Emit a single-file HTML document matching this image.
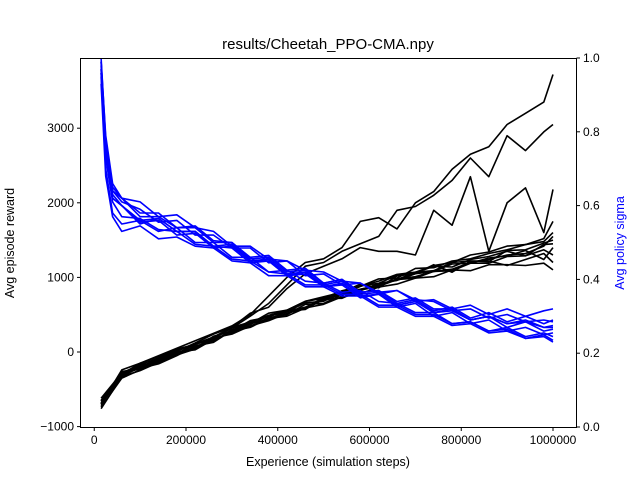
<!DOCTYPE html>
<html><head><meta charset="utf-8"><style>
body{margin:0;background:#fff;}
svg text{font-family:"Liberation Sans","DejaVu Sans",sans-serif;}
</style></head><body>
<svg id="chart" width="640" height="480" xmlns="http://www.w3.org/2000/svg">
<rect width="640" height="480" fill="#fff"/>
<g id="marks"></g>
<rect x="80.5" y="58.5" width="496" height="369" fill="none" stroke="#000" stroke-width="1"/>
<text x="328" y="49" font-size="15" text-anchor="middle">results/Cheetah_PPO-CMA.npy</text>
<text x="328" y="466" font-size="12.5" text-anchor="middle">Experience (simulation steps)</text>
<text transform="translate(14,243) rotate(-90)" font-size="12.5" text-anchor="middle">Avg episode reward</text>
<text transform="translate(624,243) rotate(-90)" font-size="12.5" text-anchor="middle" fill="#0000ff">Avg policy sigma</text>
<g id="axes"></g>
</svg>
<script>
const xTicks=[0,200000,400000,600000,800000,1000000];
const yTicks=[-1000,0,1000,2000,3000];
const y2Ticks=[0.0,0.2,0.4,0.6,0.8,1.0];
const xsK=[15000,60000,100000,140000,180000,220000,260000,300000,340000,380000,420000,460000,500000,540000,580000,620000,660000,700000,740000,780000,820000,860000,900000,940000,980000,1000000];
const rewardA=[-650,-300,-150,-50,50,150,250,350,500,750,1000,1200,1250,1400,1750,1800,1650,2000,2150,2450,2650,2750,3050,3200,3350,3720];
const rewardB=[-700,-330,-200,-100,-20,100,180,320,480,650,900,1150,1200,1350,1450,1550,1900,1950,2100,2300,2600,2350,2900,2700,2950,3050];
const rewardC=[-620,-280,-170,-80,10,120,240,330,520,600,850,1050,1150,1250,1400,1350,1350,1300,1900,1700,2350,1350,2000,2200,1600,2180];
const rewardK1=[-760,-330,-250,-140,-40,40,170,260,380,440,540,600,720,760,880,950,1040,1070,1160,1200,1300,1340,1420,1440,1520,1750];
const rewardK2=[-700,-280,-200,-90,10,110,200,330,400,490,560,680,720,820,880,980,990,1120,1130,1220,1250,1320,1370,1440,1480,1600];
const rewardK3=[-650,-330,-170,-150,-30,60,190,240,350,420,520,580,700,730,840,890,980,1010,1080,1110,1200,1240,1300,1320,1420,1550];
const rewardK4=[-720,-260,-230,-80,30,80,140,300,370,480,540,660,680,800,840,900,970,1070,1090,1200,1220,1210,1360,1370,1460,1500];
const rewardK5=[-680,-320,-190,-140,-20,50,210,280,420,470,560,590,730,780,890,920,1030,1060,1150,1140,1240,1280,1350,1290,1440,1450];
const rewardK6=[-740,-350,-240,-110,0,30,170,260,340,460,500,640,650,770,820,920,960,1050,1080,1180,1190,1260,1290,1360,1240,1400];
const rewardK7=[-660,-300,-220,-160,-50,80,130,290,350,430,550,570,720,720,830,880,970,990,1080,1090,1190,1190,1280,1290,1370,1300];
const rewardK8=[-700,-240,-150,-60,40,100,200,320,380,520,560,680,740,800,910,860,1020,1050,1170,1070,1220,1220,1160,1240,1320,1200];
const rewardK9=[-690,-310,-210,-120,-10,60,160,280,330,450,480,590,640,740,780,870,910,990,1010,1100,1090,1170,1170,1160,1190,1100];
const xsB=[15000,25000,40000,60000,100000,140000,180000,220000,260000,300000,340000,380000,420000,460000,500000,540000,580000,620000,660000,700000,740000,780000,820000,860000,900000,940000,980000,1000000];
const sigmaB1=[1.00,0.78,0.65,0.62,0.61,0.57,0.575,0.54,0.53,0.49,0.49,0.455,0.45,0.425,0.42,0.395,0.39,0.365,0.37,0.345,0.34,0.315,0.32,0.295,0.305,0.285,0.29,0.285];
const sigmaB2=[0.97,0.74,0.62,0.60,0.56,0.565,0.53,0.53,0.49,0.485,0.445,0.45,0.41,0.415,0.38,0.39,0.355,0.36,0.325,0.335,0.30,0.31,0.28,0.29,0.26,0.27,0.25,0.255];
const sigmaB3=[0.95,0.70,0.58,0.55,0.56,0.53,0.54,0.50,0.50,0.46,0.46,0.42,0.425,0.395,0.39,0.365,0.37,0.34,0.335,0.31,0.31,0.28,0.285,0.26,0.27,0.245,0.255,0.245];
const sigmaB4=[0.99,0.79,0.66,0.62,0.58,0.58,0.54,0.545,0.505,0.50,0.46,0.465,0.425,0.43,0.39,0.40,0.365,0.37,0.34,0.35,0.32,0.32,0.29,0.30,0.28,0.285,0.27,0.27];
const sigmaB5=[0.96,0.75,0.63,0.60,0.555,0.56,0.52,0.525,0.485,0.49,0.45,0.455,0.415,0.42,0.385,0.395,0.36,0.365,0.33,0.34,0.31,0.32,0.29,0.30,0.27,0.285,0.26,0.265];
const sigmaB6=[0.93,0.68,0.57,0.53,0.545,0.51,0.515,0.49,0.485,0.45,0.445,0.41,0.41,0.38,0.38,0.355,0.355,0.325,0.325,0.30,0.30,0.275,0.28,0.255,0.26,0.24,0.25,0.235];
const sigmaB7=[0.98,0.77,0.64,0.62,0.57,0.57,0.54,0.54,0.50,0.50,0.455,0.46,0.42,0.425,0.39,0.40,0.365,0.37,0.335,0.345,0.315,0.325,0.295,0.31,0.285,0.30,0.28,0.29];
const sigmaB8=[0.96,0.73,0.61,0.57,0.565,0.535,0.53,0.495,0.49,0.455,0.45,0.42,0.415,0.385,0.385,0.36,0.36,0.33,0.33,0.305,0.305,0.28,0.285,0.26,0.265,0.24,0.245,0.23];
const sigmaB9=[0.97,0.75,0.62,0.60,0.55,0.565,0.53,0.53,0.49,0.495,0.45,0.45,0.41,0.42,0.38,0.385,0.35,0.36,0.33,0.34,0.31,0.315,0.29,0.30,0.28,0.29,0.27,0.275];
const sigmaB10=[0.99,0.76,0.64,0.61,0.59,0.555,0.56,0.52,0.52,0.485,0.485,0.445,0.45,0.41,0.415,0.385,0.39,0.36,0.37,0.34,0.345,0.32,0.33,0.305,0.32,0.30,0.315,0.32];

const rewardSeries=[rewardA,rewardB,rewardC,rewardK1,rewardK2,rewardK3,rewardK4,rewardK5,rewardK6,rewardK7,rewardK8,rewardK9];
const sigmaSeries=[sigmaB1,sigmaB2,sigmaB3,sigmaB4,sigmaB5,sigmaB6,sigmaB7,sigmaB8,sigmaB9,sigmaB10];

const NS="http://www.w3.org/2000/svg";
const L=80,R=576,T=58,B=427;
function xScale(v){return 94.25+v*(91.75/200000);}
function yScale(v){return 352-v*0.0746;}
function y2Scale(v){return B-v*(B-T);}
const marks=document.getElementById('marks');
const axes=document.getElementById('axes');
function mk(tag,attrs,parent){const e=document.createElementNS(NS,tag);for(const k in attrs)e.setAttribute(k,attrs[k]);parent.appendChild(e);return e;}

rewardSeries.forEach((s,i)=>{
  const d=s.map((v,j)=>(j?'L':'M')+xScale(xsK[j]).toFixed(1)+','+yScale(v).toFixed(1)).join('');
  const p=mk('path',{d:d,fill:'none',stroke:'#000','stroke-width':1.6,'stroke-linejoin':'round'},marks);
  
  
});
sigmaSeries.forEach((s,i)=>{
  const d=s.map((v,j)=>(j?'L':'M')+xScale(xsB[j]).toFixed(1)+','+y2Scale(v).toFixed(1)).join('');
  const p=mk('path',{d:d,fill:'none',stroke:'#0000ff','stroke-width':1.6,'stroke-linejoin':'round'},marks);
  
  
});
xTicks.forEach(v=>{
  const x=xScale(v);
  mk('line',{x1:x,x2:x,y1:B+0.5,y2:B+4,stroke:'#000'},axes);
  const t=mk('text',{x:x,y:B+17,'font-size':12,'text-anchor':'middle'},axes);
  t.textContent=String(v);
  
  
});
yTicks.forEach(v=>{
  const y=yScale(v);
  mk('line',{x1:L+0.5,x2:L-3,y1:y,y2:y,stroke:'#000'},axes);
  const t=mk('text',{x:L-6,y:y+4,'font-size':12,'text-anchor':'end'},axes);
  t.textContent=v<0?'\u2212'+Math.abs(v):String(v);
  
  
});
y2Ticks.forEach(v=>{
  const y=y2Scale(v);
  mk('line',{x1:R+0.5,x2:R+4,y1:y,y2:y,stroke:'#000'},axes);
  const t=mk('text',{x:R+7,y:y+4,'font-size':12,'text-anchor':'start'},axes);
  t.textContent=v.toFixed(1);
  
  
});
</script>
</body></html>
